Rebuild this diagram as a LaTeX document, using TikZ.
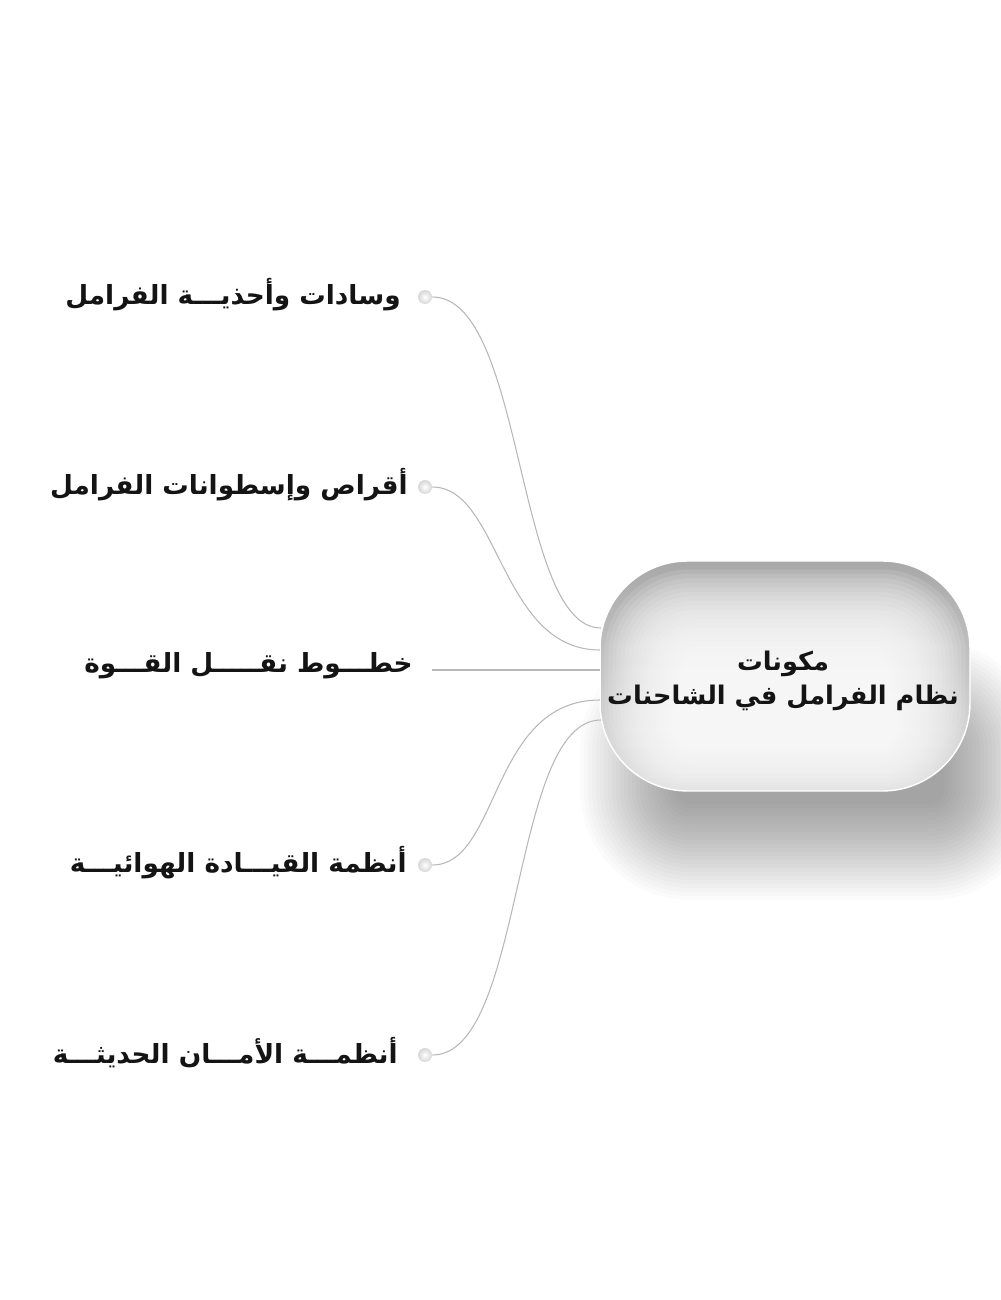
\documentclass[tikz,border=0pt]{standalone}
\usepackage{fontspec}
\usetikzlibrary{calc}
\TeXXeTstate=1
\newfontfamily\arabicfont[Script=Arabic]{DejaVu Sans}
\begin{document}
\begin{tikzpicture}[x=0.02cm,y=-0.02cm,
  conn/.style={draw=black!28,line width=0.6pt},
  dotnode/.style={circle,minimum size=0.28cm,inner sep=0pt,inner color=white,outer color=black!16},
  lbl/.style={anchor=east,inner sep=0pt,font=\arabicfont\bfseries\fontsize{15}{18}\selectfont,text=black!92},
  hub/.style={rounded corners=1.75cm,minimum width=7.4cm,minimum height=4.6cm,
     top color=black!34,bottom color=black!10,draw=white,line width=0.8pt}]
\useasboundingbox (0,0) rectangle (1000,1300);
\fill[white] (0,0) rectangle (1000,1300);
% soft drop shadow
\foreach \k in {0,...,24}{
  \pgfmathsetmacro{\rr}{0.02*(110-4*\k)}
  \fill[black,opacity=0.015,rounded corners=\rr cm]
    ({630-50+4*\k},{690-50+4*\k}) rectangle ({990+50-4*\k},{850+50-4*\k});
}
% hub
\node[hub] (c) at (785,676) {};
\foreach \k in {0,...,19}{
  \pgfmathsetmacro{\rr}{0.02*(85-3.5*\k)}
  \fill[white,opacity=0.11,rounded corners=\rr cm]
    ($(c.north west)+({5+4*\k},{9+4.5*\k})$) rectangle ($(c.south east)+({-5-4*\k},{-4-2.5*\k})$);
}
\node[align=center,inner sep=0pt,font=\arabicfont\bfseries\fontsize{14.6}{19}\selectfont,text=black!92] (ct) at (783,681)
  {\beginR مكونات\endR\\\beginR نظام الفرامل في الشاحنات\endR};
\coordinate (e1) at (601,628);
\coordinate (e2) at (600,650);
\coordinate (e3) at (600,670);
\coordinate (e4) at (600,700);
\coordinate (e5) at (601,720);
% dots
\node[dotnode] (d1) at (425,297) {};
\node[dotnode] (d2) at (425,487) {};
\node[dotnode] (d4) at (425,865) {};
\node[dotnode] (d5) at (425,1055) {};
\coordinate (d3) at (432,670);
% connectors
\draw[conn] (d1.east) .. controls (525,297) and (515,628) .. (e1);
\draw[conn] (d2.east) .. controls (500,487) and (500,650) .. (e2);
\draw[conn] (d3) -- (e3);
\draw[conn] (d4.east) .. controls (500,865) and (490,700) .. (e4);
\draw[conn] (d5.east) .. controls (525,1055) and (510,720) .. (e5);
% labels
\node[lbl] (t1) at (401,295) {\beginR وسادات وأحذيـــة الفرامل\endR};
\node[lbl] (t2) at (408,485) {\beginR أقراص وإسطوانات الفرامل\endR};
\node[lbl] (t3) at (413,666) {\beginR خطـــوط نقـــــل القـــوة\endR};
\node[lbl] (t4) at (407,863) {\beginR أنظمة القيـــادة الهوائيـــة\endR};
\node[lbl] (t5) at (398,1053) {\beginR أنظمـــة الأمـــان الحديثـــة\endR};
\end{tikzpicture}
\end{document}
